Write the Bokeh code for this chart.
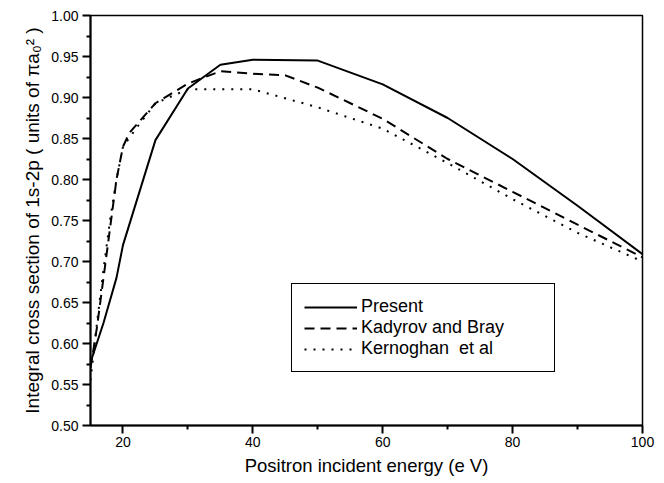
from bokeh.plotting import figure
from bokeh.models import Legend, LegendItem, PrintfTickFormatter, FixedTicker, Range1d
from bokeh.embed import file_html
from bokeh.resources import INLINE

# Data
present_x = [15, 17, 19, 20, 25, 30, 35, 40, 50, 60, 70, 80, 90, 100]
present_y = [0.577, 0.625, 0.680, 0.720, 0.848, 0.911, 0.940, 0.946, 0.945, 0.916, 0.875, 0.825, 0.768, 0.709]

kadyrov_x = [15, 16, 17, 18, 19, 20, 21, 25, 30, 35, 40, 45, 50, 60, 70, 80, 90, 100]
kadyrov_y = [0.570, 0.620, 0.680, 0.740, 0.800, 0.840, 0.857, 0.893, 0.917, 0.932, 0.929, 0.927, 0.912, 0.874, 0.825, 0.785, 0.745, 0.705]

kern_x = [15, 16, 17, 18, 19, 20, 22, 25, 30, 35, 40, 50, 60, 70, 80, 90, 100]
kern_y = [0.555, 0.625, 0.690, 0.750, 0.800, 0.840, 0.862, 0.893, 0.910, 0.910, 0.910, 0.888, 0.862, 0.820, 0.776, 0.735, 0.700]

x_ticks = [20, 40, 60, 80, 100]
x_minor = [30, 50, 70, 90]
y_ticks = [0.50, 0.55, 0.60, 0.65, 0.70, 0.75, 0.80, 0.85, 0.90, 0.95, 1.00]
y_minor = [0.525, 0.575, 0.625, 0.675, 0.725, 0.775, 0.825, 0.875, 0.925, 0.975]

FONT = "Liberation Sans"

p = figure(width=664, height=483, output_backend="svg", toolbar_location=None,
           x_range=Range1d(15, 100), y_range=Range1d(0.5, 1.0),
           min_border_left=90, min_border_right=22, min_border_top=15, min_border_bottom=58)
p.grid.visible = False
p.background_fill_color = "white"
p.border_fill_color = "white"
p.outline_line_color = "black"
p.outline_line_alpha = 1.0
p.outline_line_width = 1.5

r1 = p.line(present_x, present_y, line_color="black", line_width=2)
r2 = p.line(kadyrov_x, kadyrov_y, line_color="black", line_width=2, line_dash="10 6")
r3 = p.line(kern_x, kern_y, line_color="black", line_width=2, line_dash="2 7")

for ax in (p.xaxis[0], p.yaxis[0]):
    ax.axis_line_width = 2
    ax.axis_line_color = "black"
    ax.major_tick_line_width = 2
    ax.minor_tick_line_width = 2
    ax.major_tick_out = 8
    ax.major_tick_in = 0
    ax.minor_tick_out = 4
    ax.minor_tick_in = 0
    ax.major_label_text_font = FONT
    ax.major_label_text_font_size = "14px"
    ax.major_label_text_color = "black"
    ax.axis_label_text_font = FONT
    ax.axis_label_text_font_style = "normal"
    ax.axis_label_text_color = "black"

p.xaxis.axis_label_text_font_size = "18.5px"
p.yaxis.axis_label_text_font_size = "19px"
p.xaxis.ticker = FixedTicker(ticks=x_ticks, minor_ticks=x_minor)
p.yaxis.ticker = FixedTicker(ticks=y_ticks, minor_ticks=y_minor)
p.yaxis.formatter = PrintfTickFormatter(format="%.2f")
p.xaxis.axis_label = "Positron incident energy (e V)"
p.yaxis.axis_label = "Integral cross section of 1s-2p ( units of \u03c0a\u2080\u00b2 )"
p.xaxis.major_label_standoff = 3
p.yaxis.major_label_standoff = 4
p.xaxis.axis_label_standoff = 5
p.yaxis.axis_label_standoff = 5

legend = Legend(items=[
    LegendItem(label="Present", renderers=[r1]),
    LegendItem(label="Kadyrov and Bray", renderers=[r2]),
    LegendItem(label="Kernoghan  et al", renderers=[r3]),
], location=(201, 53))
legend.border_line_color = "black"
legend.border_line_alpha = 1.0
legend.border_line_width = 1.5
legend.background_fill_alpha = 1
legend.label_text_font = FONT
legend.label_text_font_size = "18px"
legend.label_text_color = "black"
legend.glyph_width = 53
legend.glyph_height = 18
legend.label_height = 18
legend.spacing = 0
legend.padding = 12
legend.margin = 0
legend.label_standoff = 4
legend.label_width = 181
p.add_layout(legend, "center")

open("out.html", "w").write(file_html(p, INLINE))
